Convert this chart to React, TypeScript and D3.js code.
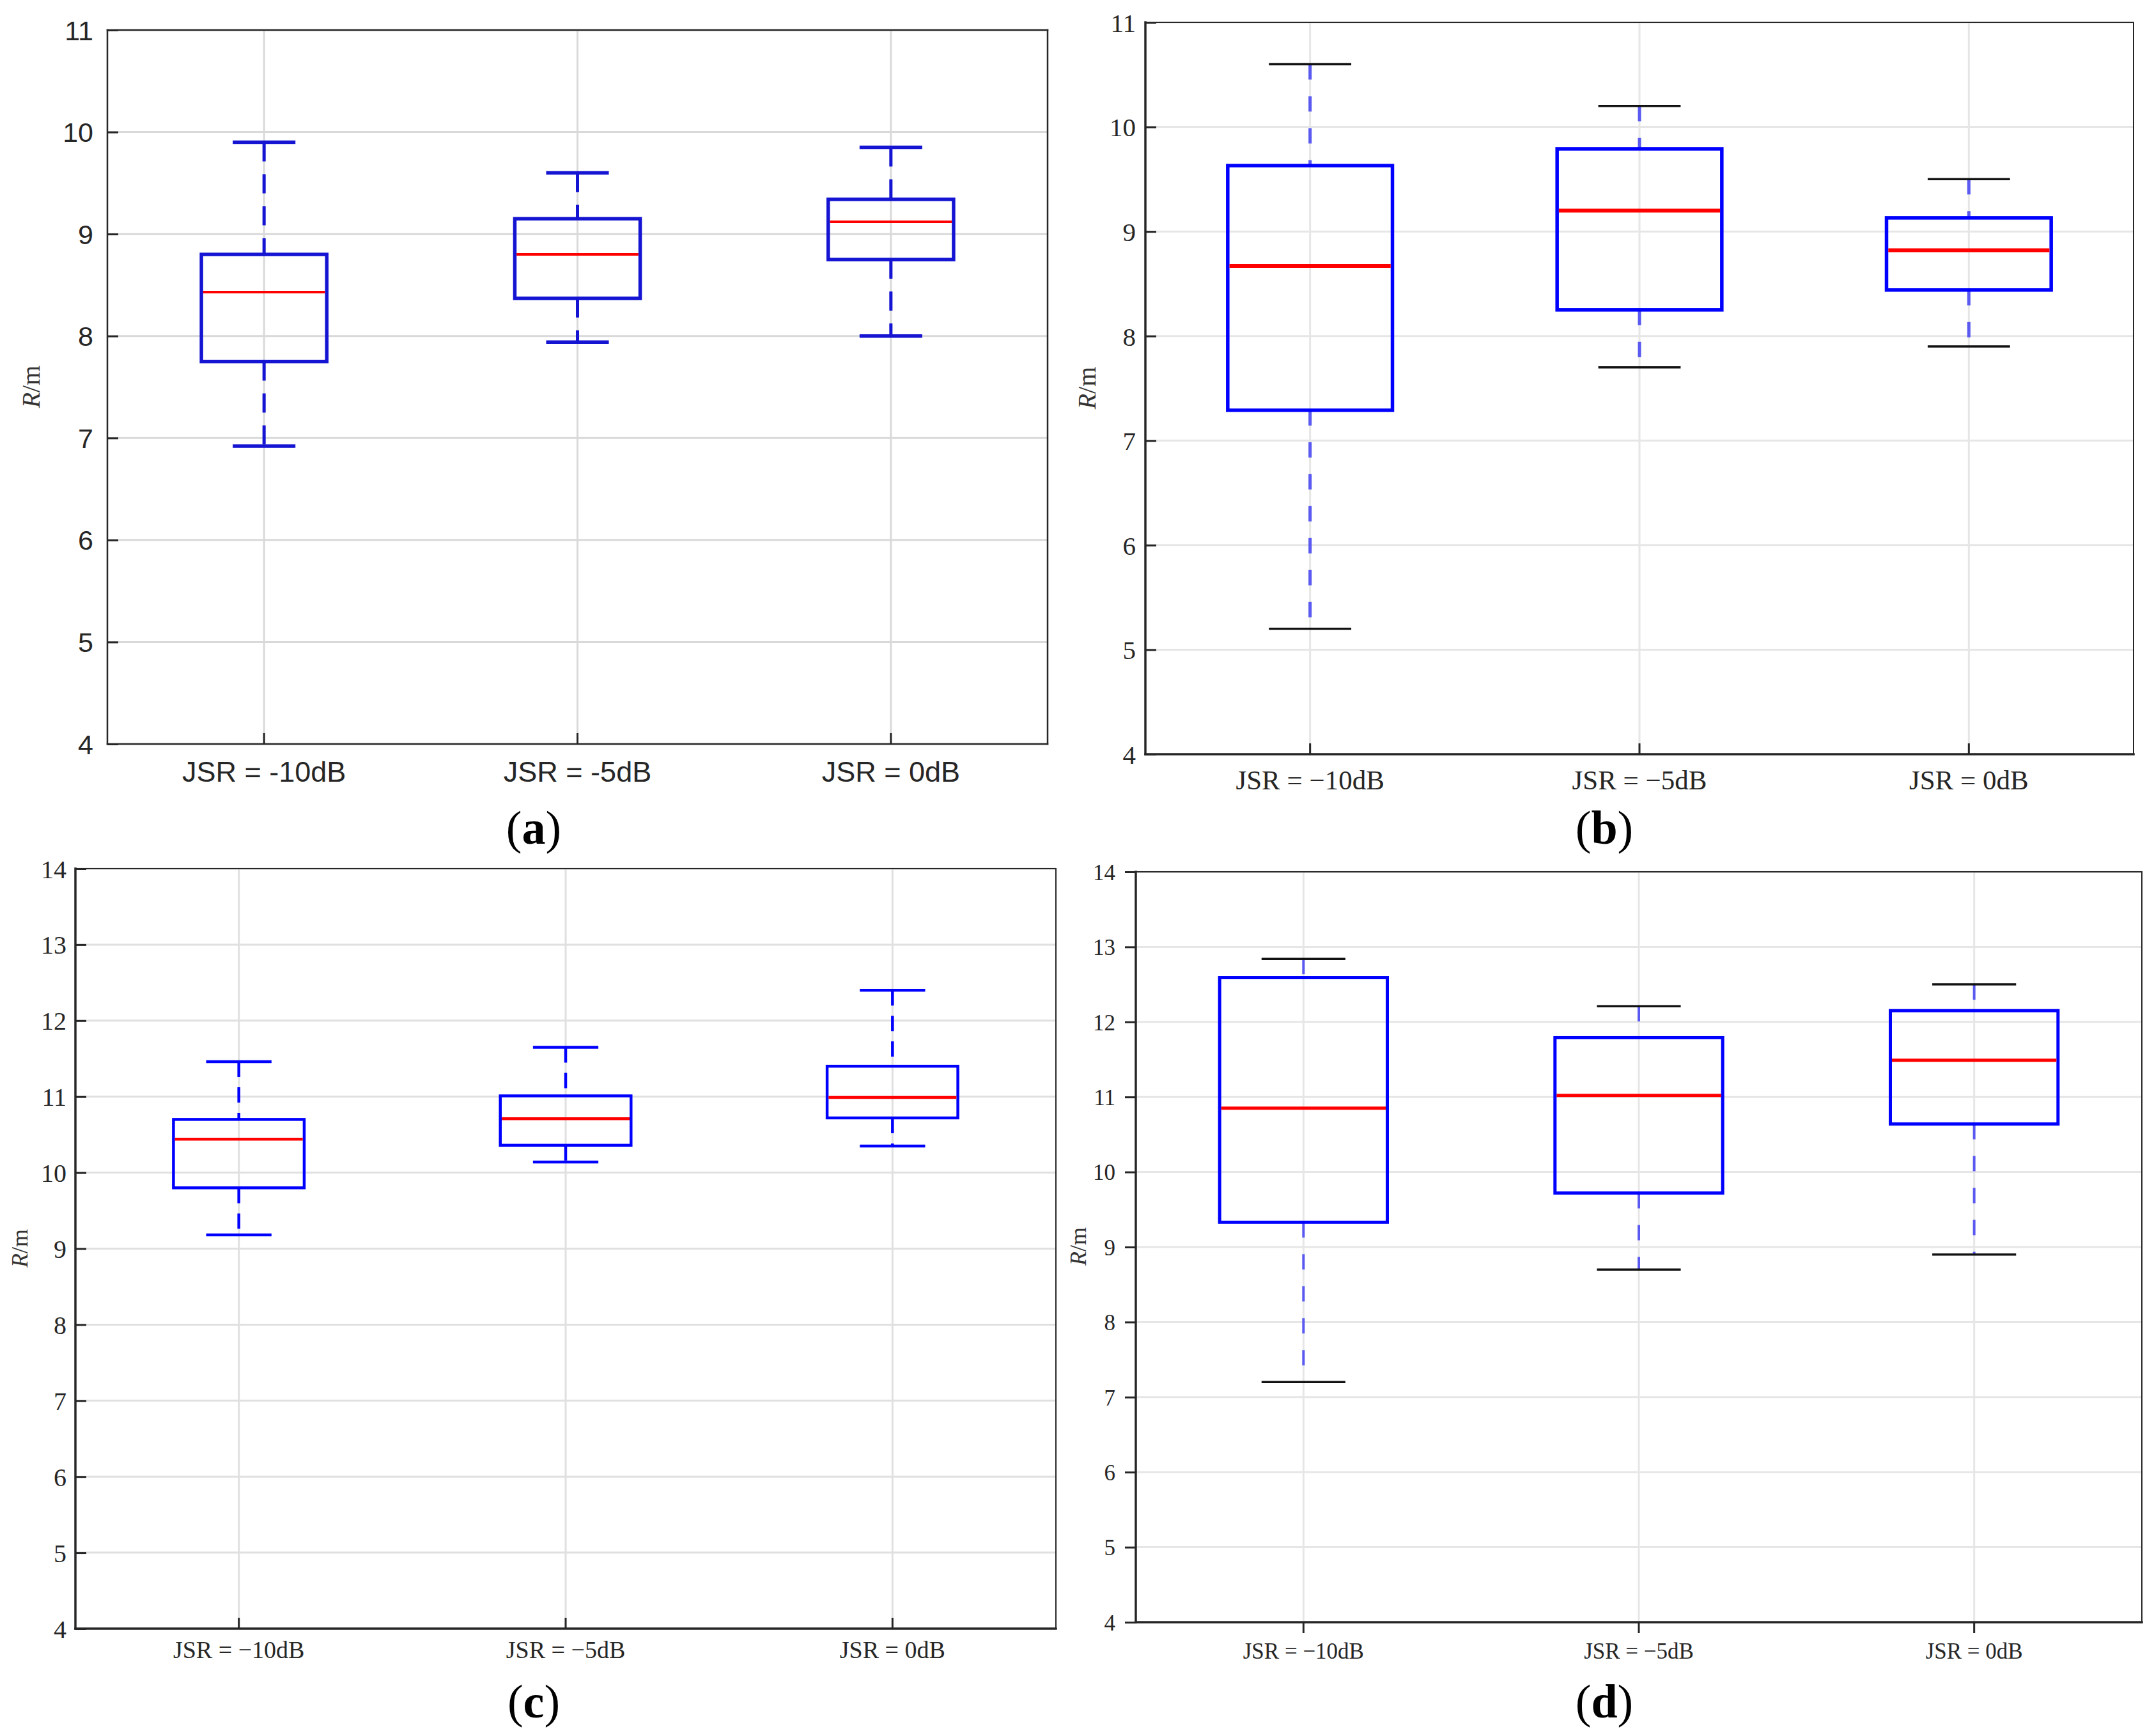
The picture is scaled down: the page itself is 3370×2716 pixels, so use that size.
import React, { useEffect, useRef } from 'react';
import * as d3 from 'd3';

// category (tick) labels
const catsSans = ['JSR = -10dB', 'JSR = -5dB', 'JSR = 0dB'];
const catsSerif = ['JSR = \u221210dB', 'JSR = \u22125dB', 'JSR = 0dB'];

// y tick values
const ticksTop = [4, 5, 6, 7, 8, 9, 10, 11];
const ticksBottom = [4, 5, 6, 7, 8, 9, 10, 11, 12, 13, 14];

// each box: [lower whisker, Q1, median, Q3, upper whisker]
const boxesA = [
  [6.92, 7.75, 8.43, 8.80, 9.90],
  [7.94, 8.37, 8.80, 9.15, 9.60],
  [8.00, 8.75, 9.12, 9.34, 9.85],
];
const boxesB = [
  [5.20, 7.29, 8.67, 9.63, 10.60],
  [7.70, 8.25, 9.20, 9.79, 10.20],
  [7.90, 8.44, 8.82, 9.13, 9.50],
];
const boxesC = [
  [9.18, 9.80, 10.44, 10.70, 11.46],
  [10.14, 10.36, 10.71, 11.01, 11.65],
  [10.35, 10.72, 10.99, 11.40, 12.40],
];
const boxesD = [
  [7.20, 9.33, 10.85, 12.59, 12.84],
  [8.70, 9.72, 11.02, 11.79, 12.21],
  [8.90, 10.64, 11.49, 12.15, 12.50],
];

const SANS = '"Liberation Sans", Arial, sans-serif';
const SERIF = '"Liberation Serif", "Times New Roman", serif';

const panels = [
  {
    tag: 'a', boxes: boxesA, cats: catsSans, ticks: ticksTop,
    left: 168, right: 1639, top: 47, bottom: 1164,
    font: SANS, tickFont: 43, catFont: 45, yPad: 22, xPad: 27, tickIn: true,
    boxW: 0.4, capW: 0.2, boxStroke: 5.5, medStroke: 4, boxColor: '#1414d2',
    whiskColor: '#1414d2', whiskStroke: 5, dash: '30,20', capColor: '#1414d2', capStroke: 5.5,
    grid: '#d9d9d9', frameTop: 2.5, frameBottom: 2.5,
    ylab: [48, 605], ylabFont: 40, label: [835, 1320],
  },
  {
    tag: 'b', boxes: boxesB, cats: catsSerif, ticks: ticksTop,
    left: 1792, right: 3338, top: 35, bottom: 1180,
    font: SERIF, tickFont: 41, catFont: 43, yPad: 15, xPad: 24, tickIn: true,
    boxW: 0.5, capW: 0.25, boxStroke: 5.5, medStroke: 6, boxColor: '#0000ff',
    whiskColor: '#5a5af0', whiskStroke: 5, dash: '24,26', capColor: '#111', capStroke: 3.5,
    grid: '#e6e6e6', frameTop: 2, frameBottom: 3.5,
    ylab: [1700, 607], ylabFont: 40, label: [2510, 1320],
  },
  {
    tag: 'c', boxes: boxesC, cats: catsSerif, ticks: ticksBottom,
    left: 118, right: 1652, top: 1359, bottom: 2548,
    font: SERIF, tickFont: 40, catFont: 38, yPad: 14, xPad: 19, tickIn: true,
    boxW: 0.4, capW: 0.2, boxStroke: 4.5, medStroke: 4.5, boxColor: '#0000ff',
    whiskColor: '#0000ff', whiskStroke: 4.5, dash: '24,16', capColor: '#0000ff', capStroke: 4.5,
    grid: '#e0e0e0', frameTop: 2, frameBottom: 3.5,
    ylab: [30, 1953], ylabFont: 36, label: [835, 2687],
  },
  {
    tag: 'd', boxes: boxesD, cats: catsSerif, ticks: ticksBottom,
    left: 1777, right: 3351, top: 1364, bottom: 2538,
    font: SERIF, tickFont: 35, catFont: 35, yPad: 15, xPad: 15, tickIn: false,
    boxW: 0.5, capW: 0.25, boxStroke: 5, medStroke: 5, boxColor: '#0000ff',
    whiskColor: '#5a5af0', whiskStroke: 4, dash: '24,26', capColor: '#111', capStroke: 3.5,
    grid: '#e6e6e6', frameTop: 2, frameBottom: 3.5,
    ylab: [1686, 1950], ylabFont: 36, label: [2510, 2687],
  },
];

function drawPanel(svg: any, p: any) {
  const x = d3.scaleBand().domain(p.cats).range([p.left, p.right]);
  const cx = (c: string) => (x(c) as number) + x.bandwidth() / 2;
  const unit = x.bandwidth(); // one category step
  const y = d3.scaleLinear()
    .domain([p.ticks[0], p.ticks[p.ticks.length - 1]])
    .range([p.bottom, p.top]);

  const g = svg.append('g');

  // grid
  g.append('g').selectAll('line')
    .data(p.ticks)
    .join('line')
    .attr('x1', p.left).attr('x2', p.right)
    .attr('y1', (d: number) => y(d)).attr('y2', (d: number) => y(d))
    .attr('stroke', p.grid).attr('stroke-width', 3);
  g.append('g').selectAll('line')
    .data(p.cats)
    .join('line')
    .attr('x1', cx).attr('x2', cx)
    .attr('y1', p.top).attr('y2', p.bottom)
    .attr('stroke', p.grid).attr('stroke-width', 3);

  const rows = p.boxes.map((b: number[], i: number) => ({ c: p.cats[i], b }));

  // whiskers
  const wg = g.append('g');
  wg.selectAll('line.up').data(rows).join('line')
    .attr('class', 'up')
    .attr('x1', (d: any) => cx(d.c)).attr('x2', (d: any) => cx(d.c))
    .attr('y1', (d: any) => y(d.b[4])).attr('y2', (d: any) => y(d.b[3]))
    .attr('stroke', p.whiskColor).attr('stroke-width', p.whiskStroke)
    .attr('stroke-dasharray', p.dash);
  wg.selectAll('line.lo').data(rows).join('line')
    .attr('class', 'lo')
    .attr('x1', (d: any) => cx(d.c)).attr('x2', (d: any) => cx(d.c))
    .attr('y1', (d: any) => y(d.b[1])).attr('y2', (d: any) => y(d.b[0]))
    .attr('stroke', p.whiskColor).attr('stroke-width', p.whiskStroke)
    .attr('stroke-dasharray', p.dash);

  // caps
  const capHalf = (unit * p.capW) / 2;
  [0, 4].forEach((k) => {
    g.append('g').selectAll('line').data(rows).join('line')
      .attr('x1', (d: any) => cx(d.c) - capHalf).attr('x2', (d: any) => cx(d.c) + capHalf)
      .attr('y1', (d: any) => y(d.b[k])).attr('y2', (d: any) => y(d.b[k]))
      .attr('stroke', p.capColor).attr('stroke-width', p.capStroke);
  });

  // boxes
  const half = (unit * p.boxW) / 2;
  g.append('g').selectAll('rect').data(rows).join('rect')
    .attr('x', (d: any) => cx(d.c) - half)
    .attr('width', half * 2)
    .attr('y', (d: any) => y(d.b[3]))
    .attr('height', (d: any) => y(d.b[1]) - y(d.b[3]))
    .attr('fill', 'none')
    .attr('stroke', p.boxColor).attr('stroke-width', p.boxStroke);

  // medians
  g.append('g').selectAll('line').data(rows).join('line')
    .attr('x1', (d: any) => cx(d.c) - half + p.boxStroke / 2)
    .attr('x2', (d: any) => cx(d.c) + half - p.boxStroke / 2)
    .attr('y1', (d: any) => y(d.b[2])).attr('y2', (d: any) => y(d.b[2]))
    .attr('stroke', '#ff0000').attr('stroke-width', p.medStroke);

  // frame
  const frame = g.append('g').attr('stroke', '#262626').attr('stroke-linecap', 'square');
  frame.append('line').attr('x1', p.left).attr('x2', p.right).attr('y1', p.top).attr('y2', p.top)
    .attr('stroke-width', p.frameTop);
  frame.append('line').attr('x1', p.right).attr('x2', p.right).attr('y1', p.top).attr('y2', p.bottom)
    .attr('stroke-width', p.frameTop);
  frame.append('line').attr('x1', p.left).attr('x2', p.right).attr('y1', p.bottom).attr('y2', p.bottom)
    .attr('stroke-width', p.frameBottom);
  frame.append('line').attr('x1', p.left).attr('x2', p.left).attr('y1', p.top).attr('y2', p.bottom)
    .attr('stroke-width', p.frameBottom);

  // axes
  const tick = p.tickIn ? -17 : 17;
  const yAxis = g.append('g')
    .attr('transform', `translate(${p.left},0)`)
    .call(d3.axisLeft(y).tickValues(p.ticks).tickFormat(d3.format('d')).tickSize(tick).tickPadding(p.yPad));
  const xAxis = g.append('g')
    .attr('transform', `translate(0,${p.bottom})`)
    .call(d3.axisBottom(x).tickSize(tick).tickPadding(p.xPad));
  [yAxis, xAxis].forEach((ax: any) => {
    ax.select('.domain').remove();
    ax.selectAll('line').attr('stroke', '#262626').attr('stroke-width', 3);
    ax.selectAll('text')
      .attr('fill', '#262626')
      .style('font-family', p.font);
  });
  yAxis.selectAll('text').style('font-size', `${p.tickFont}px`).attr('dy', '0.35em');
  xAxis.selectAll('text').style('font-size', `${p.catFont}px`);

  // y label
  const yl = g.append('text')
    .attr('transform', `translate(${p.ylab[0]},${p.ylab[1]}) rotate(-90)`)
    .attr('text-anchor', 'middle')
    .attr('dy', '0.35em')
    .attr('fill', '#333')
    .style('font-family', SERIF)
    .style('font-size', `${p.ylabFont}px`);
  yl.append('tspan').attr('font-style', 'italic').text('R');
  yl.append('tspan').text('/m');

  // panel label
  const lab = svg.append('text')
    .attr('x', p.label[0]).attr('y', p.label[1])
    .attr('text-anchor', 'middle')
    .attr('fill', '#000')
    .style('font-family', SERIF)
    .style('font-size', '74px');
  lab.append('tspan').text('(');
  lab.append('tspan').attr('font-weight', 'bold').text(p.tag);
  lab.append('tspan').text(')');
}

function BoxPanels() {
  const svgRef = useRef() as React.RefObject<SVGSVGElement>;

  useEffect(() => {
    const svg = d3.select(svgRef.current);
    svg.selectAll('*').remove();
    svg.append('rect').attr('width', 3370).attr('height', 2716).attr('fill', '#fff');
    panels.forEach((p) => drawPanel(svg, p));
  }, []);

  return (
    <svg
      ref={svgRef}
      width={3370}
      height={2716}
      style={{ position: 'absolute', left: 0, top: 0, display: 'block' }}
    />
  );
}

export default function App() {
  return <BoxPanels />;
}
